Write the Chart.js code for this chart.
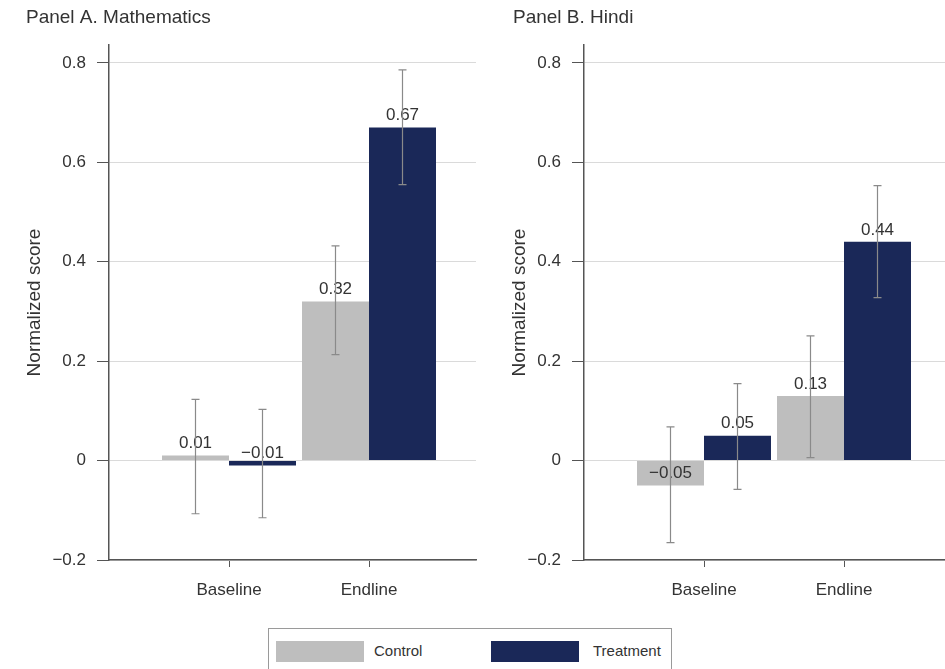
<!DOCTYPE html>
<html>
<head>
<meta charset="utf-8">
<script src="https://cdn.jsdelivr.net/npm/chart.js@4.4.1/dist/chart.umd.min.js"></script>
<style>
  html, body { margin: 0; padding: 0; background: #fff; overflow: hidden; }
  body { width: 945px; height: 669px; position: relative; font-family: "Liberation Sans", Arial, sans-serif; }
  canvas { position: absolute; top: 0; }
  #legend { position: absolute; left: 268px; top: 628px; width: 404px; height: 50px; border: 1px solid #9a9a9a; box-sizing: border-box; }
  .sw { position: absolute; top: 12px; width: 88px; height: 21px; }
  .lt { position: absolute; top: 13px; font-size: 15px; color: #333; }
</style>
</head>
<body>
<canvas id="panelA" width="480" height="600" style="left:0px"></canvas>
<canvas id="panelB" width="480" height="600" style="left:475px"></canvas>
<div id="legend">
  <div class="sw" style="left:7px;background:#bebebe"></div>
  <div class="lt" style="left:105px">Control</div>
  <div class="sw" style="left:222px;background:#1a2858"></div>
  <div class="lt" style="left:324px">Treatment</div>
</div>
<script>
// data
const categories = ["Baseline", "Endline"];
const yTicks = [-0.2, 0, 0.2, 0.4, 0.6, 0.8];

const mathControl = [0.01, 0.32];
const mathControlLo = [-0.107, 0.213];
const mathControlHi = [0.123, 0.432];
const mathTreatment = [-0.01, 0.67];
const mathTreatmentLo = [-0.115, 0.555];
const mathTreatmentHi = [0.103, 0.786];

const hindiControl = [-0.05, 0.13];
const hindiControlLo = [-0.165, 0.006];
const hindiControlHi = [0.068, 0.251];
const hindiTreatment = [0.05, 0.44];
const hindiTreatmentLo = [-0.058, 0.328];
const hindiTreatmentHi = [0.155, 0.553];

const CONTROL = "#bebebe";
const TREATMENT = "#1a2858";
const AXIS = "#555555";

Chart.defaults.font.family = '"Liberation Sans", Arial, sans-serif';
Chart.defaults.color = "#333333";

const fmt = (v) => (v === 0 ? "0" : String(v).replace("-", "\u2212"));

// value labels + error bars
const barExtras = {
  id: "barExtras",
  afterDatasetsDraw(chart) {
    const ctx = chart.ctx;
    const y = chart.scales.y;
    ctx.save();
    ctx.font = '17px "Liberation Sans", Arial, sans-serif';
    ctx.fillStyle = "#333";
    ctx.textAlign = "center";
    ctx.textBaseline = "middle";
    chart.data.datasets.forEach((ds, i) => {
      chart.getDatasetMeta(i).data.forEach((bar, j) => {
        const v = ds.data[j].y;
        ctx.fillText(v.toFixed(2).replace("-", "\u2212"), bar.x, y.getPixelForValue(v) - 12);
      });
    });
    ctx.strokeStyle = "#8a8a8a";
    ctx.lineWidth = 1.2;
    chart.data.datasets.forEach((ds, i) => {
      chart.getDatasetMeta(i).data.forEach((bar, j) => {
        const top = y.getPixelForValue(ds.hi[j]);
        const bot = y.getPixelForValue(ds.lo[j]);
        ctx.beginPath();
        ctx.moveTo(bar.x, top); ctx.lineTo(bar.x, bot);
        ctx.moveTo(bar.x - 4, top); ctx.lineTo(bar.x + 4, top);
        ctx.moveTo(bar.x - 4, bot); ctx.lineTo(bar.x + 4, bot);
        ctx.stroke();
      });
    });
    ctx.restore();
  }
};

function makePanel(id, title, padLeft, yTitlePad, ctrl, ctrlLo, ctrlHi, trt, trtLo, trtHi) {
  const pts = (arr) => arr.map((v, i) => ({ x: i + 1, y: v }));
  return new Chart(document.getElementById(id), {
    type: "bar",
    data: {
      datasets: [
        { label: "Control", data: pts(ctrl), lo: ctrlLo, hi: ctrlHi, backgroundColor: CONTROL, borderWidth: 0 },
        { label: "Treatment", data: pts(trt), lo: trtLo, hi: trtHi, backgroundColor: TREATMENT, borderWidth: 0 }
      ]
    },
    options: {
      responsive: false,
      animation: false,
      categoryPercentage: 134 / 140,
      barPercentage: 1,
      layout: { padding: { left: padLeft, right: 4, top: 0, bottom: 0 } },
      plugins: {
        legend: { display: false },
        tooltip: { enabled: false },
        title: {
          display: true,
          text: title,
          align: "start",
          color: "#333",
          font: { size: 19, weight: "normal" },
          padding: { top: 6, bottom: 16.2 }
        }
      },
      scales: {
        x: {
          type: "linear",
          min: 1 - 120 / 140,
          max: 2 + 107 / 140,
          offset: false,
          afterBuildTicks: (s) => { s.ticks = categories.map((c, i) => ({ value: i + 1 })); },
          afterFit: (s) => { s.height = 40; },
          grid: { display: true, drawOnChartArea: false, offset: false, tickLength: 7, tickColor: AXIS, tickWidth: 1 },
          border: { display: true, color: AXIS, width: 1.5 },
          ticks: {
            padding: 13,
            font: { size: 17 },
            color: "#333",
            callback: (v) => categories[v - 1]
          }
        },
        y: {
          min: -0.2,
          max: 0.836,
          afterBuildTicks: (s) => { s.ticks = yTicks.map((v) => ({ value: v })); },
          afterFit: (s) => { s.width = 109 - padLeft; },
          grid: { color: "#dadada", lineWidth: 1, tickLength: 12, tickColor: AXIS, tickWidth: 1 },
          border: { display: true, color: AXIS, width: 1.5 },
          ticks: { padding: 11, font: { size: 17 }, color: "#333", callback: (v) => fmt(v) },
          title: { display: true, text: "Normalized score", color: "#333", font: { size: 19 }, padding: { top: yTitlePad, bottom: 0 } }
        }
      }
    },
    plugins: [barExtras]
  });
}

makePanel("panelA", "Panel A. Mathematics", 26, -3,
  mathControl, mathControlLo, mathControlHi, mathTreatment, mathTreatmentLo, mathTreatmentHi);
makePanel("panelB", "Panel B. Hindi", 38, -5,
  hindiControl, hindiControlLo, hindiControlHi, hindiTreatment, hindiTreatmentLo, hindiTreatmentHi);
</script>
</body>
</html>
